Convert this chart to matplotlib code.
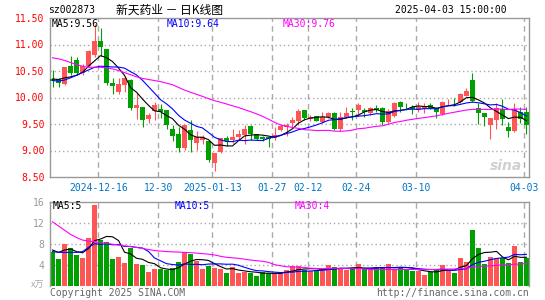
import matplotlib
matplotlib.use('Agg')
import matplotlib.pyplot as plt
import numpy as np

# 新天药业 sz002873, daily bars 2024-12-04 .. 2025-04-03 (80 days)
opens = [10.34, 10.34, 10.25, 10.59, 10.70, 10.46, 10.59, 10.80, 11.06, 10.91,
         10.28, 10.11, 10.23, 10.33, 9.80, 9.82, 9.60, 9.74, 9.78, 9.76,
         9.41, 9.31, 9.05, 9.39, 9.15, 9.19, 9.17, 8.76, 8.98, 9.24,
         9.20, 9.25, 9.29, 9.47, 9.31, 9.26, 9.25, 9.23, 9.39, 9.45,
         9.51, 9.56, 9.77, 9.60, 9.65, 9.53, 9.63, 9.70, 9.41, 9.63,
         9.74, 9.76, 9.76, 9.71, 9.80, 9.80, 9.54, 9.66, 9.91, 9.88,
         9.83, 9.76, 9.78, 9.86, 9.81, 9.69, 9.93, 9.94, 9.91, 10.03,
         10.33, 9.81, 9.71, 9.48, 9.58, 9.78, 9.45, 9.37, 9.73, 9.72]
highs = [10.52, 10.36, 10.58, 10.78, 10.76, 10.63, 10.89, 11.39, 11.31, 10.91,
         10.37, 10.36, 10.40, 10.34, 10.08, 9.82, 9.71, 9.92, 9.87, 9.76,
         9.49, 9.45, 9.49, 9.58, 9.36, 9.29, 9.18, 8.96, 9.24, 9.27,
         9.40, 9.39, 9.49, 9.49, 9.31, 9.28, 9.26, 9.45, 9.50, 9.52,
         9.64, 9.78, 9.77, 9.67, 9.66, 9.73, 9.73, 9.73, 9.73, 9.83,
         9.80, 9.90, 9.81, 9.83, 9.86, 9.82, 9.78, 9.91, 9.94, 9.90,
         9.86, 9.92, 9.89, 9.89, 9.82, 9.93, 9.98, 10.00, 10.09, 10.17,
         10.47, 9.90, 9.71, 9.61, 9.89, 9.97, 9.54, 9.90, 9.83, 9.83]
lows = [10.20, 10.20, 10.23, 10.42, 10.42, 10.43, 10.58, 10.77, 10.78, 10.23,
        10.06, 10.06, 10.11, 9.76, 9.60, 9.45, 9.52, 9.58, 9.62, 9.41,
        9.18, 8.98, 9.01, 8.98, 9.01, 9.12, 8.79, 8.62, 8.95, 9.09,
        9.14, 9.19, 9.13, 9.19, 9.20, 9.17, 9.07, 9.20, 9.37, 9.27,
        9.42, 9.48, 9.58, 9.56, 9.55, 9.51, 9.61, 9.39, 9.36, 9.61,
        9.57, 9.65, 9.64, 9.67, 9.73, 9.48, 9.52, 9.64, 9.73, 9.77,
        9.68, 9.73, 9.70, 9.78, 9.61, 9.67, 9.86, 9.84, 9.89, 10.02,
        9.92, 9.50, 9.46, 9.22, 9.40, 9.48, 9.26, 9.35, 9.52, 9.32]
closes = [10.31, 10.28, 10.57, 10.46, 10.47, 10.59, 10.87, 11.06, 10.96, 10.28,
          10.22, 10.26, 10.37, 9.80, 9.85, 9.57, 9.67, 9.85, 9.72, 9.49,
          9.27, 9.05, 9.48, 9.20, 9.26, 9.26, 8.82, 8.95, 9.23, 9.17,
          9.26, 9.31, 9.40, 9.31, 9.21, 9.22, 9.22, 9.29, 9.47, 9.49,
          9.58, 9.75, 9.61, 9.63, 9.56, 9.63, 9.70, 9.41, 9.64, 9.70,
          9.73, 9.86, 9.72, 9.80, 9.76, 9.54, 9.75, 9.89, 9.83, 9.87,
          9.78, 9.83, 9.84, 9.81, 9.72, 9.92, 9.94, 9.93, 10.07, 10.13,
          9.94, 9.70, 9.64, 9.61, 9.80, 9.59, 9.37, 9.78, 9.59, 9.49]
# volume in 万手
volumes = [6.5, 5.0, 7.9, 7.2, 5.9, 5.3, 9.1, 15.5, 8.7, 8.4,
           5.0, 5.5, 4.3, 7.1, 4.2, 4.0, 2.5, 3.1, 3.2, 3.0,
           3.3, 4.5, 6.5, 6.0, 4.6, 3.1, 3.8, 3.4, 3.2, 2.3,
           3.5, 2.4, 2.6, 2.4, 1.8, 2.6, 2.4, 2.4, 2.4, 2.9,
           3.7, 3.8, 3.0, 2.7, 2.9, 2.8, 4.0, 3.6, 3.2, 2.9,
           3.3, 4.2, 3.1, 3.1, 3.4, 3.4, 4.2, 3.1, 3.4, 3.2,
           2.7, 2.7, 2.1, 2.5, 3.0, 4.0, 3.0, 2.4, 5.2, 4.5,
           10.6, 7.1, 4.2, 5.5, 5.3, 5.3, 4.3, 7.6, 4.5, 5.3]

# moving-average values at the left edge (they depend on days before the window)
ma5_head = [10.35, 10.34, 10.37, 10.39]
ma10_head = [10.32, 10.31, 10.33, 10.37, 10.42, 10.47, 10.52, 10.57, 10.59]
ma30_head = [10.75, 10.73, 10.70, 10.66, 10.62, 10.59, 10.57, 10.57, 10.57, 10.56,
             10.54, 10.51, 10.47, 10.43, 10.39, 10.36, 10.34, 10.32, 10.30, 10.27,
             10.24, 10.19, 10.14, 10.10, 10.06, 10.02, 9.98, 9.94, 9.91]
vol_ma5_head = [6.8, 6.35, 6.8, 7.0]
vol_ma10_head = [6.5, 6.35, 6.35, 6.35, 6.35, 6.5, 7.3, 8.0, 7.9]
vol_ma30_head = [12.2, 11.4, 10.6, 9.8, 9.2, 8.7, 8.5, 8.4, 8.2, 8.1,
                 7.9, 7.75, 7.6, 7.45, 7.3, 7.1, 6.9, 6.7, 6.6, 6.5,
                 6.45, 6.4, 6.35, 6.3, 6.2, 6.1, 6.0, 5.85, 5.6]

# date labels and the bar index they sit on
tick_idx = [8, 18, 27, 37, 43, 51, 61, 79]
tick_labels = ['2024-12-16', '12-30', '2025-01-13', '01-27', '02-12', '02-24', '03-10', '04-03']

price_ticks = [8.5, 9.0, 9.5, 10.0, 10.5, 11.0, 11.5]
vol_ticks = [4, 8, 12, 16]

legend_price = ['MA5:9.56', 'MA10:9.64', 'MA30:9.76']
legend_vol = ['MA5:5', 'MA10:5', 'MA30:4']

RED = '#ff5555'
GREEN = '#00a000'
GRID = '#aaaaaa'
BORDER = '#999999'
MONO = 'DejaVu Sans Mono'
CJK = ['Noto Sans CJK SC', 'DejaVu Sans']
FS = 7


def moving_avg(vals, n, head):
    vals = np.asarray(vals, dtype=float)
    tail = np.convolve(vals, np.ones(n) / n, mode='valid')
    return np.concatenate([head, tail])


def setup_axis(ax, ylim):
    ax.set_xlim(-0.42, 79.42)
    ax.set_ylim(*ylim)
    for s in ax.spines.values():
        s.set_color(BORDER)
        s.set_linewidth(1)
    ax.tick_params(length=0, labelsize=FS)
    for i in tick_idx:
        ax.axvline(i - 0.35, color=GRID, lw=1, ls=(0, (4, 3)), zorder=0)


fig = plt.figure(figsize=(5.45, 3.0), dpi=100)
ax = fig.add_axes([50 / 545, 1 - 177 / 300, 479 / 545, 159 / 300])
axv = fig.add_axes([50 / 545, 1 - 285.5 / 300, 479 / 545, 83.5 / 300])

x = np.arange(len(closes))
o = np.array(opens)
c = np.array(closes)
up = c >= o
colors = np.where(up, RED, GREEN)

# --- price panel ---
setup_axis(ax, (8.5, 11.5))
ax.vlines(x, lows, highs, colors=colors, lw=0.8, zorder=2)
body_h = np.maximum(np.abs(c - o), 0.012)
ax.bar(x, body_h, bottom=np.minimum(o, c), width=0.8, color=colors, linewidth=0, zorder=3)

ax.plot(x, moving_avg(closes, 5, ma5_head), color='black', lw=0.8, zorder=4)
ax.plot(x, moving_avg(closes, 10, ma10_head), color='#0000ff', lw=0.8, zorder=4)
ax.plot(x, moving_avg(closes, 30, ma30_head), color='#ff00ff', lw=0.8, zorder=4)

ax.set_yticks(price_ticks)
ax.set_yticklabels([f'{v:.2f}' for v in price_ticks], color='red', family=MONO)
for v in price_ticks[1:-1]:
    ax.axhline(v, color=GRID, lw=1, ls=(0, (1, 2)), zorder=0)
ax.set_xticks([i - 0.35 for i in tick_idx])
ax.set_xticklabels(tick_labels, color='#0074c8', family=MONO)
ax.tick_params(axis='x', pad=4)
ax.tick_params(axis='y', pad=4)

ax.text(0.985, 0.07, 'sina', transform=ax.transAxes, ha='right', va='center',
        fontsize=10, style='italic', weight='bold', color='#d0d0d0', zorder=1)

# --- volume panel ---
setup_axis(axv, (0, 16))
axv.spines['bottom'].set_visible(False)
axv.bar(x, volumes, width=0.8, color=colors, linewidth=0, zorder=2)
axv.plot(x, moving_avg(volumes, 5, vol_ma5_head), color='black', lw=0.8, zorder=4)
axv.plot(x, moving_avg(volumes, 10, vol_ma10_head), color='#0000ff', lw=0.8, zorder=4)
axv.plot(x, moving_avg(volumes, 30, vol_ma30_head), color='#ff00ff', lw=0.8, zorder=4)
axv.set_yticks(vol_ticks)
axv.set_yticklabels([str(v) for v in vol_ticks], color=BORDER, family=MONO)
axv.tick_params(axis='y', pad=4)
axv.set_xticks([])
for v in vol_ticks[:-1]:
    axv.axhline(v, color=GRID, lw=1, ls=(0, (1, 2)), zorder=0)

# --- header, legends, footer ---
ty = 1 - 10 / 300
fig.text(48 / 545, ty, 'sz002873', family=MONO, fontsize=FS, va='center')
fig.text(170 / 545, ty, '新天药业 － 日K线图', family=CJK, fontsize=8.5, va='center', ha='center')
fig.text(507 / 545, ty, '2025-04-03 15:00:00', family=MONO, fontsize=FS, va='center', ha='right')

leg_colors = ['black', '#0000ff', '#ff00ff']
for txt, xp, col in zip(legend_price, [52, 167, 283], leg_colors):
    fig.text(xp / 545, 1 - 24 / 300, txt, family=MONO, fontsize=FS, color=col, va='center')
for txt, xp, col in zip(legend_vol, [53, 175, 295], leg_colors):
    fig.text(xp / 545, 1 - 206 / 300, txt, family=MONO, fontsize=FS, color=col, va='center')

fig.text(44 / 545, 1 - 285 / 300, 'x万', family=CJK, fontsize=6.5, color='#aaaaaa',
         style='italic', va='center', ha='right')
fig.text(50 / 545, 1 - 293 / 300, 'Copyright 2025 SINA.COM', family=MONO, fontsize=FS,
         color='#666666', va='center')
fig.text(529 / 545, 1 - 293 / 300, 'http://finance.sina.com.cn', family=MONO, fontsize=FS,
         color='#666666', va='center', ha='right')

fig.savefig('out.png', dpi=100)
print('saved out.png')
